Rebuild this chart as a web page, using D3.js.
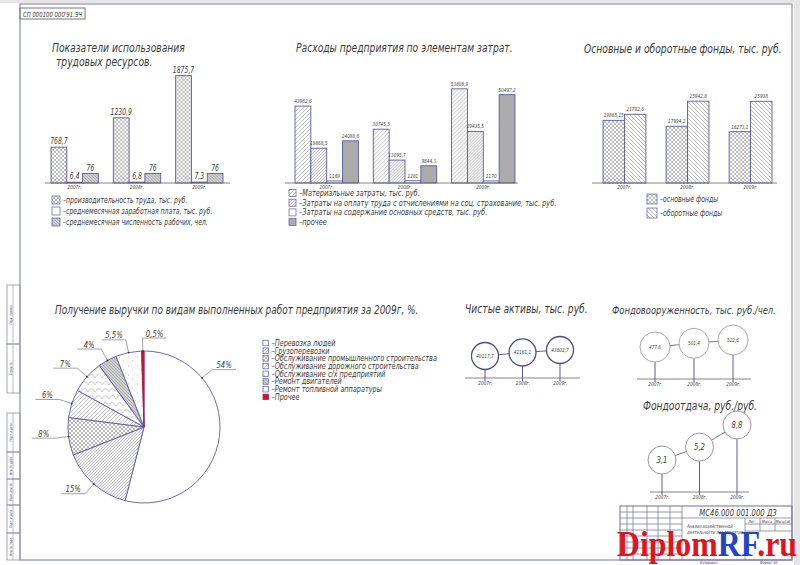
<!DOCTYPE html>
<html>
<head>
<meta charset="utf-8">
<script src="https://cdn.jsdelivr.net/npm/d3@7"></script>
<style>
  body { margin: 0; background: #fff; }
  text { font-family: "Liberation Sans Narrow", "DejaVu Sans Condensed", sans-serif; font-style: italic; fill: #3a3a3a; }
</style>
</head>
<body>
<script>
const years = ["2007г.", "2008г.", "2009г."];

const laborSeries = [
  "–производительность труда, тыс. руб.",
  "–среднемесячная заработная плата, тыс. руб.",
  "–среднемесячная численность рабочих, чел."
];
const laborValues = [[768.7, 6.4, 76], [1230.9, 6.8, 76], [1875.7, 7.3, 76]];

const costSeries = [
  "–Материальные затраты, тыс. руб.",
  "–Затраты на оплату труда с отчислениями на соц. страхование, тыс. руб.",
  "–Затраты на содержание основных средств, тыс. руб.",
  "–прочее"
];
const costValues = [
  [43962.6, 19868.5, 1169, 24088.6],
  [30745.5, 13095.7, 1281, 9844.3],
  [53808.9, 29435.5, 1170, 50497.2]
];

const fundSeries = ["–основные фонды", "–оборотные фонды"];
const fundValues = [[19865.15, 21792.6], [17994.2, 25942.8], [16273.1, 25908]];

const revenueKinds = [
  "–Перевозка людей",
  "–Грузоперевозки",
  "–Обслуживание промышленного строительства",
  "–Обслуживание дорожного строительства",
  "–Обслуживание с/х предприятий",
  "–Ремонт двигателей",
  "–Ремонт топливной аппаратуры",
  "–Прочее"
];
const revenueShares = [54, 15, 8, 6, 7, 4, 5.5, 0.5];

const netAssets = [40117.7, 42161.1, 43602.7];
const capitalRatio = [477.8, 501.4, 522.6];
const capitalOutput = [3.1, 5.2, 8.8];

const BLUE = "#5a5aa8";
const SQUEEZE = 0.85; // the drawing font is narrower than anything installed
const fmt = v => String(v).replace(".", ",");

const svg = d3.select("body").append("svg").attr("width", 800).attr("height", 565);

// hatch patterns
const defs = svg.append("defs");
function pattern(id, size, bg, path, stroke, sw) {
  const p = defs.append("pattern").attr("id", id).attr("patternUnits", "userSpaceOnUse")
    .attr("width", size).attr("height", size);
  p.append("rect").attr("width", size).attr("height", size).attr("fill", bg);
  p.append("path").attr("d", path).attr("stroke", stroke).attr("stroke-width", sw).attr("fill", "none");
}
pattern("cross", 4, "#fff", "M0,0L4,4M4,0L0,4", "#8a8a8a", 0.6);
pattern("fwd", 4, "#fff", "M-1,1L1,-1M0,4L4,0M3,5L5,3", "#999", 0.6);
pattern("back", 4, "#fff", "M-1,3L1,5M0,0L4,4M3,-1L5,1", "#888", 0.6);
pattern("fine", 3, "#f2f2f2", "M-1,1L1,-1M0,3L3,0M2,4L4,2", "#999", 0.5);
pattern("grayBack", 3, "#d0d0d0", "M-1,2L1,4M0,0L3,3M2,-1L4,1", "#888", 0.5);
pattern("arcs", 7, "#fff", "M0,7Q3.5,0 7,7", "#999", 0.5);
pattern("dots", 9, "#fff", "M2,2h0.8M6,6h0.8", "#999", 0.8);

// drawing frame
svg.append("rect").attr("x", 0).attr("y", 0).attr("width", 800).attr("height", 3).attr("fill", "#e6e6e6");
svg.append("rect").attr("x", 794).attr("y", 0).attr("width", 6).attr("height", 565).attr("fill", "#e6e6e6");
svg.append("rect").attr("x", 20).attr("y", 4).attr("width", 772).attr("height", 556)
  .attr("fill", "none").attr("stroke", "#8e8eb4").attr("stroke-width", 1.2);
svg.append("rect").attr("x", 20).attr("y", 8).attr("width", 65).attr("height", 11)
  .attr("fill", "none").attr("stroke", "#777");
svg.append("text").attr("x", 23).attr("y", 16.5).attr("font-size", 7).text("СП 000100 000'91.ЭЧ");

// left stamp strip
const stampRows = [[285, 344, "Перв. примен."], [344, 393, "Справ. №"], [413, 452, "Подп. и дата"],
  [452, 479, "Инв. № дубл."], [479, 505, "Взам. инв. №"], [505, 533, "Подп. и дата"], [533, 560, "Инв. № подл."]];
stampRows.forEach(([a, b, t]) => {
  svg.append("rect").attr("x", 7).attr("y", a).attr("width", 13).attr("height", b - a)
    .attr("fill", "none").attr("stroke", "#8e8eb4").attr("stroke-width", 0.8);
  svg.append("line").attr("x1", 13).attr("x2", 13).attr("y1", a).attr("y2", b).attr("stroke", "#8e8eb4").attr("stroke-width", 0.6);
  svg.append("text").attr("transform", `translate(11.5,${(a + b) / 2}) rotate(-90)`)
    .attr("text-anchor", "middle").attr("font-size", 3.5).attr("fill", "#999").text(t);
});

function title(x, y, lines, size) {
  lines.forEach((l, i) => svg.append("text").attr("x", x + i * 4).attr("y", y + i * size * 1.15)
    .attr("font-size", size).attr("fill", "#333").text(l));
}

function legend(x, y, step, box, size, labels, fills) {
  const g = svg.append("g");
  labels.forEach((l, i) => {
    g.append("rect").attr("x", x).attr("y", y + i * step - box / 2).attr("width", box).attr("height", box)
      .attr("fill", fills[i]).attr("stroke", fills[i] === "#cc1133" ? "#cc1133" : BLUE).attr("stroke-width", 0.7);
    g.append("text").attr("x", x + box + 3).attr("y", y + i * step).attr("dy", "0.35em")
      .attr("font-size", size).text(l);
  });
}

function drawBars(o) {
  const g = svg.append("g");
  const x = d3.scaleBand().domain(years).range(o.range).paddingInner(o.pad);
  const xs = d3.scaleBand().domain(d3.range(o.series.length)).range([0, x.bandwidth()]);
  const y = o.y;
  const base = y(0);
  const grp = g.selectAll("g.grp").data(o.values).join("g")
    .attr("transform", (d, i) => `translate(${x(years[i])},0)`);
  grp.selectAll("rect").data(d => d).join("rect")
    .attr("x", (d, j) => xs(j)).attr("y", d => y(d))
    .attr("width", xs.bandwidth()).attr("height", d => base - y(d))
    .attr("fill", (d, j) => o.fills[j]).attr("stroke", BLUE).attr("stroke-width", 0.9);
  grp.selectAll("text").data(d => d).join("text")
    .attr("x", (d, j) => xs(j) + xs.bandwidth() / 2).attr("y", d => y(d) - 3)
    .attr("text-anchor", "middle").attr("font-size", o.labelSize).text(fmt);
  g.append("line").attr("x1", o.range[0] - o.ext[0]).attr("x2", o.range[1] + o.ext[1])
    .attr("y1", base).attr("y2", base).attr("stroke", "#666").attr("stroke-width", 0.8);
  g.append("g").attr("transform", `translate(0,${base})`)
    .call(d3.axisBottom(x).tickSize(0).tickPadding(2))
    .call(a => a.select(".domain").remove())
    .selectAll("text").attr("font-size", 5.5).attr("font-family", null);
}

// 1. labour resources
title(52, 52, ["Показатели использования", "трудовых ресурсов."], 12);
const laborFills = ["url(#cross)", "#fff", "url(#grayBack)"];
drawBars({
  range: [51, 223], pad: 0.24, ext: [6, 7], series: laborSeries, values: laborValues,
  fills: laborFills, labelSize: 8,
  y: d3.scaleLinear().domain([0, 80, 800, 1900]).range([183, 173, 146, 74])
});
legend(52, 200, 11, 8, 8, laborSeries, laborFills);

// 2. expenses
title(296, 52, ["Расходы предприятия по элементам затрат."], 12);
const costFills = ["url(#fwd)", "url(#fine)", "#fff", "#ababab"];
drawBars({
  range: [295, 515], pad: 0.19, ext: [10, 3], series: costSeries, values: costValues,
  fills: costFills, labelSize: 5.5,
  y: d3.scaleLinear().domain([0, 54000]).range([183, 88.5])
});
legend(289, 193, 9.7, 7, 8.6, costSeries, costFills);

// 3. funds
title(584, 53, ["Основные и оборотные фонды, тыс. руб."], 12);
const fundFills = ["url(#cross)", "url(#back)"];
drawBars({
  range: [603, 772], pad: 0.32, ext: [11, 5], series: fundSeries, values: fundValues,
  fills: fundFills, labelSize: 5.5,
  y: d3.scaleLinear().domain([0, 26000]).range([183, 101])
});
legend(647, 199, 14, 10, 8, fundSeries, fundFills);

// 4. revenue pie
title(55, 314, ["Получение выручки по видам выполненных работ предприятия за 2009г, %."], 11.7);
const pieFills = ["#fff", "url(#fine)", "url(#cross)", "url(#fwd)", "url(#arcs)", "url(#grayBack)", "url(#dots)", "#cc1133"];
const R = 76, cx = 144, cy = 427;
const slices = d3.pie().sort(null).value(d => d)(revenueShares);
const arc = d3.arc().innerRadius(0).outerRadius(R);
const pg = svg.append("g").attr("transform", `translate(${cx},${cy})`);
pg.selectAll("path").data(slices).join("path").attr("d", arc)
  .attr("fill", (d, i) => pieFills[i]).attr("stroke", (d, i) => i === 7 ? "#cc1133" : BLUE).attr("stroke-width", 0.9);
const pt = (r, a) => [r * Math.sin(a), -r * Math.cos(a)];
slices.forEach(s => {
  const a = Math.min((s.startAngle + s.endAngle) / 2, s.startAngle + 0.87);
  const p1 = pt(R, a), p2 = pt(R + 13, a);
  const side = Math.sin(a) > -0.05 ? 1 : -1;
  const p3 = [p2[0] + side * 24, p2[1]];
  pg.append("path").attr("d", d3.line()([p1, p2, p3])).attr("fill", "none")
    .attr("stroke", "#666").attr("stroke-width", 0.6);
  pg.append("circle").attr("cx", p1[0]).attr("cy", p1[1]).attr("r", 0.9).attr("fill", "#333");
  pg.append("text").attr("x", (p2[0] + p3[0]) / 2).attr("y", p2[1] - 1.5)
    .attr("text-anchor", "middle").attr("font-size", 9).text(fmt(s.data) + "%");
});
legend(263, 343, 7.7, 5.5, 8.5, revenueKinds, pieFills);

// 5-7. lollipop charts
function drawLolli(o) {
  const g = svg.append("g");
  const x = d3.scalePoint().domain(years).range(o.xr);
  const y = o.y;
  const base = y.range()[0];
  g.append("line").attr("x1", o.xr[0] - o.ext).attr("x2", o.xr[1] + o.ext)
    .attr("y1", base).attr("y2", base).attr("stroke", "#666").attr("stroke-width", 0.8);
  g.selectAll("line.stem").data(o.values).join("line").attr("class", "stem")
    .attr("x1", (d, i) => x(years[i])).attr("x2", (d, i) => x(years[i]))
    .attr("y1", d => y(d)).attr("y2", base + 3).attr("stroke", BLUE).attr("stroke-width", 1);
  g.append("path").attr("d", d3.line()(o.values.map((d, i) => [x(years[i]), y(d)])))
    .attr("fill", "none").attr("stroke", o.link).attr("stroke-width", 0.9);
  g.selectAll("circle").data(o.values).join("circle")
    .attr("cx", (d, i) => x(years[i])).attr("cy", d => y(d)).attr("r", o.r)
    .attr("fill", "#fff").attr("stroke", o.ring).attr("stroke-width", o.ringW);
  g.selectAll("text.v").data(o.values).join("text").attr("class", "v")
    .attr("x", (d, i) => x(years[i])).attr("y", d => y(d)).attr("dy", "0.35em")
    .attr("text-anchor", "middle").attr("font-size", o.fs).text(fmt);
  g.append("g").attr("transform", `translate(0,${base})`)
    .call(d3.axisBottom(x).tickSize(0).tickPadding(3))
    .call(a => a.select(".domain").remove())
    .selectAll("text").attr("font-size", 5.5).attr("font-family", null);
}

title(465, 313, ["Чистые активы, тыс. руб."], 12);
drawLolli({ xr: [485, 560], ext: 20, values: netAssets, r: 13.5, ring: "#4b4b8f", ringW: 1.3,
  link: "#555", fs: 5.5, y: d3.scaleLinear().domain([27300, 43600]).range([378, 350]) });

title(612, 314, ["Фондовооруженность, тыс. руб./чел."], 11);
drawLolli({ xr: [655, 733], ext: 18, values: capitalRatio, r: 15, ring: "#aaa", ringW: 1,
  link: "#666", fs: 5.5, y: d3.scaleLinear().domain([273, 522.6]).range([379, 340]) });

title(643, 410, ["Фондоотдача, руб./руб."], 12);
drawLolli({ xr: [662, 737], ext: 12, values: capitalOutput, r: 14, ring: "#999", ringW: 1,
  link: "#666", fs: 9, y: d3.scaleLinear().domain([-2.1, 8.8]).range([492, 425]) });

// title block
const tb = svg.append("g").attr("stroke", "#6f6f9a").attr("stroke-width", 0.7).attr("fill", "none");
tb.append("rect").attr("x", 620).attr("y", 506).attr("width", 172).attr("height", 54).attr("stroke-width", 1);
tb.append("line").attr("x1", 620).attr("x2", 792).attr("y1", 518).attr("y2", 518);
[627, 633, 647, 658, 670, 682].forEach(v => tb.append("line").attr("x1", v).attr("x2", v).attr("y1", 506).attr("y2", 560));
[512, 524, 530, 536, 542, 548, 554].forEach(v => tb.append("line").attr("x1", 620).attr("x2", 682).attr("y1", v).attr("y2", v));
tb.append("line").attr("x1", 745).attr("x2", 745).attr("y1", 518).attr("y2", 560);
[524, 531].forEach(v => tb.append("line").attr("x1", 745).attr("x2", 792).attr("y1", v).attr("y2", v));
[760, 775].forEach(v => tb.append("line").attr("x1", v).attr("x2", v).attr("y1", 518).attr("y2", 531));
svg.append("text").attr("x", 738).attr("y", 515.5).attr("text-anchor", "middle").attr("font-size", 9).text("МС46.000 001.000 ДЗ");
svg.append("text").attr("x", 687).attr("y", 528).attr("font-size", 5).text("Анализ хозяйственной");
svg.append("text").attr("x", 687).attr("y", 534).attr("font-size", 5).text("деятельности предприятия");
[["Лит.", 752], ["Масса", 767], ["Масштаб", 783]].forEach(([t, xx]) =>
  svg.append("text").attr("x", xx).attr("y", 522.5).attr("text-anchor", "middle").attr("font-size", 4).text(t));
svg.append("text").attr("x", 700).attr("y", 563.5).attr("font-size", 4).text("Копировал");
svg.append("text").attr("x", 760).attr("y", 563.5).attr("font-size", 4).text("Формат A3");

// squeeze every text to the narrow drawing font width
svg.selectAll("text").each(function () {
  const len = this.getComputedTextLength();
  if (len > 0) d3.select(this).attr("textLength", len * SQUEEZE).attr("lengthAdjust", "spacingAndGlyphs");
});

// watermark
const wm = svg.append("text").attr("x", 617).attr("y", 556).attr("font-size", 35)
  .attr("textLength", 180).attr("lengthAdjust", "spacingAndGlyphs")
  .style("font-family", "'Liberation Serif', 'DejaVu Serif', serif").style("font-style", "normal").attr("font-weight", "bold");
wm.append("tspan").style("fill", "#e0141e").text("Diplom");
wm.append("tspan").style("fill", "#1f45c8").text("RF");
wm.append("tspan").style("fill", "#e0141e").text(".ru");
</script>
</body>
</html>
